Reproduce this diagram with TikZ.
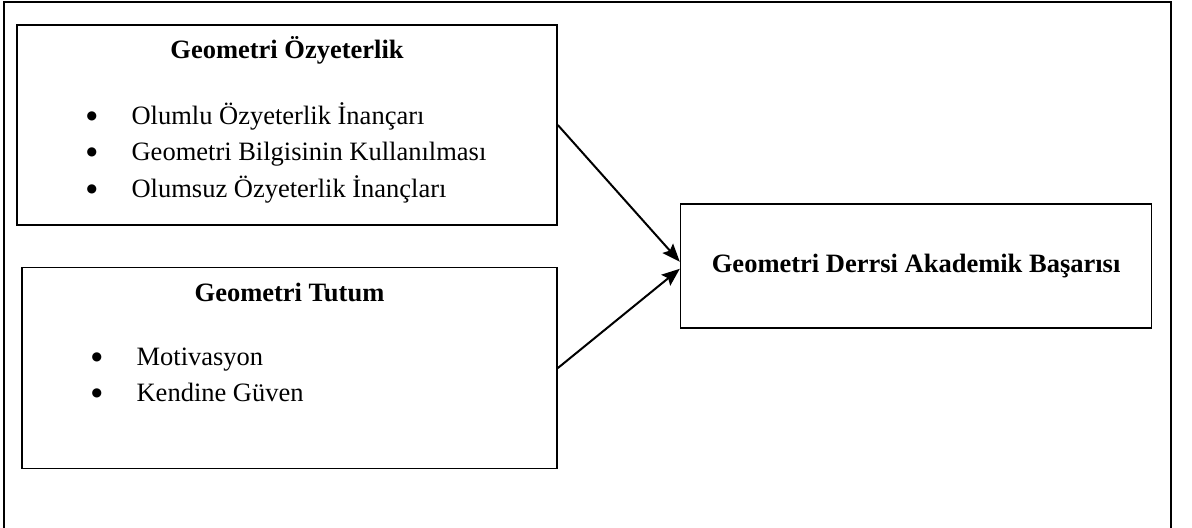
\documentclass[tikz,border=0pt]{standalone}
\usepackage{fontspec}
\setmainfont{Liberation Serif}
\newfontfamily\simge{DejaVu Sans}
\usetikzlibrary{arrows.meta, positioning}
\tikzset{
  cerceve/.style={line width=1.25pt, color=black},
  kutu/.style={rectangle, draw=black, line width=0.8pt, fill=white},
  baslik/.style={font=\fontsize{13.25}{18.25}\selectfont\bfseries, inner sep=0pt},
  madde/.style={font=\fontsize{13.25}{18.25}\selectfont, inner sep=0pt, anchor=base west},
  ok/.style={line width=1pt, -{Stealth[length=9pt, width=7pt, inset=1.5pt]}}
}
\newcommand{\imlec}{\makebox[22.5pt][l]{\raisebox{2.4pt}{\fontsize{6}{6}\selectfont\simge ●}}}

\begin{document}
\begin{tikzpicture}[x=0.5pt, y=-0.5pt]
  \useasboundingbox (0,0) rectangle (1192,528);
  % outer frame (bottom edge is cut off)
  \draw [cerceve] (4,528) |- (1171,2) -- (1171,528);

  \node (ozy) [kutu, minimum width=270pt, minimum height=100pt] at (287,125) {};
  \node (ozybaslik) [baslik, anchor=base] at ([yshift=-17pt]ozy.north) {Geometri Özyeterlik};
  \foreach \metin [count=\i] in {Olumlu Özyeterlik İnançarı, Geometri Bilgisinin Kullanılması, Olumsuz Özyeterlik İnançları}
    \node (ozymadde\i) [madde] at ([xshift=35pt, yshift={-50pt-(\i-1)*18.25pt}]ozy.north west) {\imlec\metin};

  \node (tutum) [kutu, minimum width=267.5pt, minimum height=100.5pt,
                 below=20.5pt of ozy.south east, anchor=north east] {};
  \node (tutumbaslik) [baslik, anchor=base] at ([yshift=-17.5pt]tutum.north) {Geometri Tutum};
  \foreach \metin [count=\i] in {Motivasyon, Kendine Güven}
    \node (tutummadde\i) [madde] at ([xshift=35pt, yshift={-49.5pt-(\i-1)*18pt}]tutum.north west) {\imlec\metin};

  \node (basari) [kutu, minimum width=235.5pt, minimum height=62pt,
                  right=61pt of ozy.south east, anchor=west, yshift=-20pt] {};
  \node (basarimetin) [baslik] at (basari.center) {Geometri Derrsi Akademik Başarısı};

  \draw [ok] (ozy.east) -- ([yshift=2pt]basari.west);
  \draw [ok] (tutum.east) -- ([yshift=-1.5pt]basari.west);
\end{tikzpicture}
\end{document}
